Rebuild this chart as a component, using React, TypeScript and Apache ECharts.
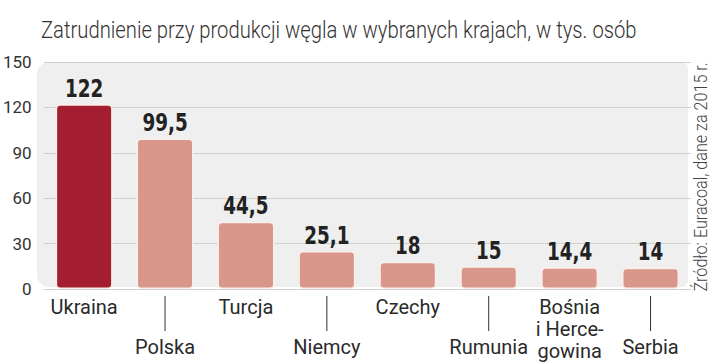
import React, { useEffect, useRef } from "react";
import * as echarts from "echarts";

const categories = ["Ukraina", "Polska", "Turcja", "Niemcy", "Czechy", "Rumunia", "Bośnia\ni Herce-\ngowina", "Serbia"];
const values = [122, 99.5, 44.5, 25.1, 18, 15, 14.4, 14];
const valueLabels = ["122", "99,5", "44,5", "25,1", "18", "15", "14,4", "14"];
const yTicks = [0, 30, 60, 90, 120, 150];
const titleText = "Zatrudnienie przy produkcji węgla w wybranych krajach, w tys. osób";
const sourceText = "Źródło: Euracoal, dane za 2015 r.";

const HIGHLIGHT = "#a51e2f";
const BASE = "#d9968a";
const boldFont = "'DejaVu Sans Condensed', 'DejaVu Sans', sans-serif";
const labelFont = "Roboto, 'Noto Sans', sans-serif";

export default function App() {
  const ref = useRef<HTMLDivElement>(null);
  useEffect(() => {
    if (!ref.current) return;
    const chart = echarts.init(ref.current, undefined, { renderer: "svg" });
    chart.setOption({
      animation: false,
      backgroundColor: "#ffffff",
      grid: { left: 38, right: 29, top: 62, bottom: 73, containLabel: false },
      graphic: [
        {
          type: "rect",
          z: -10,
          shape: { x: 37, y: 62, width: 651, height: 225, r: [12, 6, 6, 12] },
          style: { fill: "#efefef" },
        },
        {
          type: "text",
          x: 41,
          y: 30,
          scaleX: 0.88,
          style: {
            text: titleText,
            font: `300 23px ${labelFont}`,
            fill: "#333",
            align: "left",
            verticalAlign: "middle",
          },
        },
        {
          type: "text",
          x: 701,
          y: 177,
          rotation: Math.PI / 2,
          scaleX: 0.85,
          style: {
            text: sourceText,
            font: `300 19px ${labelFont}`,
            fill: "#444",
            align: "center",
            verticalAlign: "middle",
          },
        },
      ],
      xAxis: {
        type: "category",
        data: categories,
        axisLine: { show: false },
        axisTick: { show: false },
        axisLabel: {
          interval: 0,
          margin: 7,
          verticalAlign: "top",
          formatter: (v: string, i: number) =>
            v
              .split("\n")
              .map((s) => (i % 2 === 1 ? `{o|${s}}` : `{e|${s}}`))
              .join("\n"),
          rich: {
            e: { color: "#2a2a2a", fontFamily: labelFont, fontSize: 20, lineHeight: 22 },
            o: {
              color: "#2a2a2a",
              fontFamily: labelFont,
              fontSize: 20,
              lineHeight: 22,
              padding: [80, 0, 0, 0],
            },
          },
        },
      },
      yAxis: {
        type: "value",
        min: 0,
        max: 150,
        interval: 30,
        axisLine: { show: false },
        axisTick: { show: false },
        splitLine: { lineStyle: { color: "#cfcfcf", width: 1 } },
        axisLabel: {
          margin: 12,
          color: "#333",
          fontFamily: labelFont,
          fontSize: 17,
          formatter: (v: number) => (yTicks.includes(v) ? String(v) : ""),
        },
      },
      series: [
        {
          type: "bar",
          barWidth: 57,
          data: values.map((v, i) => ({
            value: v,
            itemStyle: { color: i === 0 ? HIGHLIGHT : BASE },
          })),
          itemStyle: { borderColor: "#fbefe9", borderWidth: 1.5, borderRadius: 4 },
        },
        {
          type: "custom",
          silent: true,
          clip: false,
          z: 5,
          data: values.map((v, i) => [i, v]),
          encode: { x: 0, y: 1 },
          renderItem: (params: any, api: any) => {
            const i = params.dataIndex;
            const p = api.coord([i, values[i]]);
            return {
              type: "text",
              x: p[0],
              y: p[1] - 16,
              scaleX: 0.85,
              style: {
                text: valueLabels[i],
                font: `bold 24px ${boldFont}`,
                fill: "#222",
                align: "center",
                verticalAlign: "middle",
                textAlign: "center",
                textVerticalAlign: "middle",
              },
            };
          },
        },
        {
          type: "custom",
          silent: true,
          clip: false,
          data: categories
            .map((_, i) => i)
            .filter((i) => i % 2 === 1)
            .map((i) => [i, 0]),
          encode: { x: 0, y: 1 },
          renderItem: (params: any, api: any) => {
            const idx = api.value(0);
            const p = api.coord([idx, 0]);
            return {
              type: "line",
              shape: { x1: p[0], y1: p[1] + 7, x2: p[0], y2: p[1] + 42 },
              style: { stroke: "#333", lineWidth: 1 },
            };
          },
        },
      ],
    });
    return () => chart.dispose();
  }, []);
  return <div ref={ref} style={{ position: "fixed", left: 0, top: 0, width: 720, height: 362 }} />;
}
